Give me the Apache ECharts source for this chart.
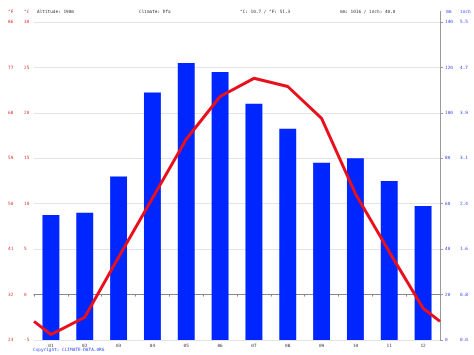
<!DOCTYPE html>
<html><head><meta charset="utf-8">
<script src="https://cdn.jsdelivr.net/npm/echarts@6/dist/echarts.min.js"></script>
<style>html,body{margin:0;padding:0;background:#fff}#c{width:474px;height:355px}</style>
</head><body><div id="c"></div>
<script>
const months = ['01','02','03','04','05','06','07','08','09','10','11','12'];
const precipMm = [55, 56, 72, 109, 122, 118, 104, 93, 78, 80, 70, 59];
const tempC = [-4.4, -2.5, 4.1, 10.6, 17.1, 21.8, 23.8, 22.9, 19.4, 11.1, 4.7, -1.5];
const headerLeft = ['°F', '°C'];
const headerInfo = ['Altitude: 190m', 'Climate: Dfa', '°C: 10.7 / °F: 51.3', 'mm: 1016 / inch: 40.0'];
const headerRight = ['mm', 'inch'];
const copyright = 'Copyright: CLIMATE-DATA.ORG';

const FONT = 'DejaVu Sans Mono';
const FS = 4.4;
const RED = '#e03030';
const BLUE = '#3344ee';

// line points at category centres, extended to the plot edges (as the original draws it)
const edge = (tempC[0] + tempC[11]) / 2;
const linePts = [[0, edge]].concat(tempC.map((t, i) => [i + 0.5, t])).concat([[12, edge]]);

const chart = echarts.init(document.getElementById('c'), null, {renderer: 'canvas'});
const splitColors = ['#e4e4e4', '#888888', '#e4e4e4', '#e4e4e4', '#e4e4e4', '#e4e4e4', '#e4e4e4', '#e4e4e4'];
chart.setOption({
  animation: false,
  backgroundColor: '#fff',
  grid: {left: 34, right: 34, top: 22, bottom: 15},
  xAxis: [{
    type: 'category', data: months, boundaryGap: true,
    axisLine: {lineStyle: {color: '#888', width: 1}},
    axisTick: {show: true, length: 2, lineStyle: {color: '#888'}},
    axisLabel: {fontFamily: FONT, fontSize: FS, color: '#333', margin: 4},
    splitLine: {show: false}
  }, {
    type: 'value', min: 0, max: 12, show: false
  }],
  yAxis: [{
    type: 'value', min: -5, max: 30, interval: 5, position: 'left',
    axisLine: {show: false}, axisTick: {show: false},
    splitLine: {show: true, lineStyle: {color: splitColors, width: 1}},
    axisLabel: {
      margin: 1,
      formatter: v => '{f|' + Math.round(v * 9 / 5 + 32) + '}{c|' + v + '}',
      rich: {
        f: {width: 16, align: 'left', fontFamily: FONT, fontSize: FS, color: RED},
        c: {width: 9, align: 'left', fontFamily: FONT, fontSize: FS, color: RED}
      }
    }
  }, {
    type: 'value', min: 0, max: 140, interval: 20, position: 'right',
    axisLine: {show: true, lineStyle: {color: '#999', width: 1}},
    axisTick: {show: true, length: 3, lineStyle: {color: '#999'}},
    splitLine: {show: false},
    axisLabel: {
      margin: 5,
      formatter: v => '{m|' + v + '}{i|' + (v / 25.4).toFixed(1) + '}',
      rich: {
        m: {width: 15, align: 'left', fontFamily: FONT, fontSize: FS, color: BLUE},
        i: {width: 12, align: 'left', fontFamily: FONT, fontSize: FS, color: BLUE}
      }
    }
  }],
  series: [{
    type: 'bar', xAxisIndex: 0, yAxisIndex: 1, data: precipMm,
    barWidth: '50%', itemStyle: {color: '#0026ff'}, z: 2
  }, {
    type: 'line', xAxisIndex: 1, yAxisIndex: 0, data: linePts,
    symbol: 'none', lineStyle: {color: '#e8101c', width: 3}, z: 3
  }],
  graphic: [
    {type: 'line', shape: {x1: 440.5, y1: 11, x2: 440.5, y2: 22}, style: {stroke: '#999', lineWidth: 1}},
    {type: 'text', left: 8, top: 10, style: {text: headerLeft[0], font: FS + 'px "' + FONT + '"', fill: RED}},
    {type: 'text', left: 24, top: 10, style: {text: headerLeft[1], font: FS + 'px "' + FONT + '"', fill: RED}},
    {type: 'text', left: 37, top: 10, style: {text: headerInfo[0], font: FS + 'px "' + FONT + '"', fill: '#333'}},
    {type: 'text', left: 139, top: 10, style: {text: headerInfo[1], font: FS + 'px "' + FONT + '"', fill: '#333'}},
    {type: 'text', left: 240, top: 10, style: {text: headerInfo[2], font: FS + 'px "' + FONT + '"', fill: '#333'}},
    {type: 'text', left: 340, top: 10, style: {text: headerInfo[3], font: FS + 'px "' + FONT + '"', fill: '#333'}},
    {type: 'text', left: 446, top: 10, style: {text: headerRight[0], font: FS + 'px "' + FONT + '"', fill: BLUE}},
    {type: 'text', left: 460, top: 10, style: {text: headerRight[1], font: FS + 'px "' + FONT + '"', fill: BLUE}},
    {type: 'text', left: 33, top: 348, style: {text: copyright, font: FS + 'px "' + FONT + '"', fill: BLUE}}
  ]
});
</script></body></html>
